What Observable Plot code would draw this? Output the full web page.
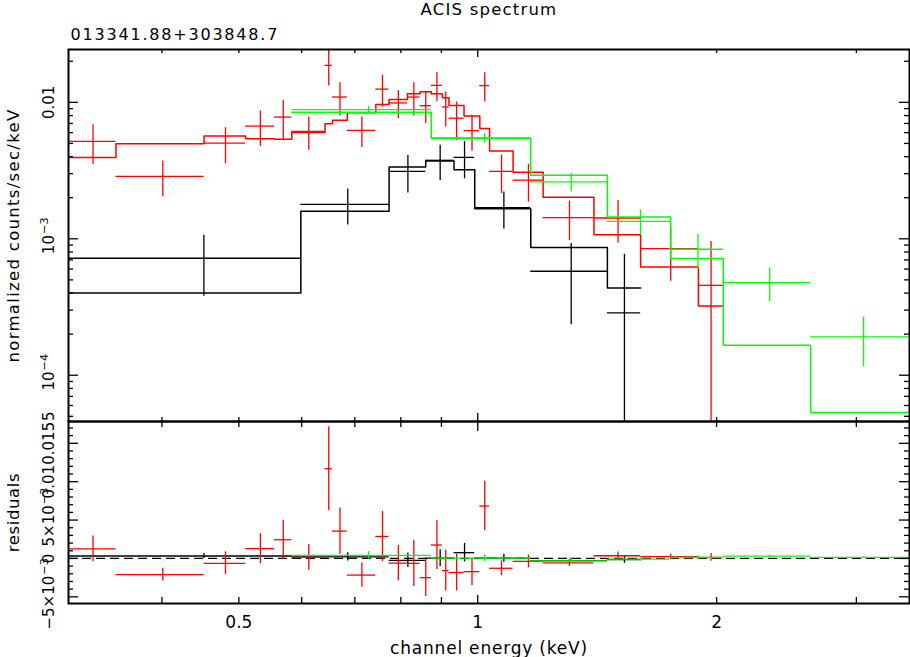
<!DOCTYPE html>
<html><head><meta charset="utf-8">
<script src="https://cdn.jsdelivr.net/npm/d3@7"></script>
<script src="https://cdn.jsdelivr.net/npm/@observablehq/plot@0.6"></script>
<style>
body{margin:0;background:#fff;}
#wrap{position:relative;width:910px;height:657px;overflow:hidden;}
#wrap svg{position:absolute;left:0;overflow:visible;background:transparent;}
</style></head><body><div id="wrap"></div>
<script>
// ---------------- data ----------------
// black dataset
const blackEdges = [0.305, 0.5985, 0.7732, 0.8599, 0.9335, 0.9913, 1.1663, 1.4567, 1.6044];
const blackRate  = [7.2e-4, 1.79e-3, 3.12e-3, 3.76e-3, 3.95e-3, 1.69e-3, 5.78e-4, 2.86e-4];
const blackErr   = [3.4e-4, 5.3e-4, 9.5e-4, 1.08e-3, 1.2e-3, 5.1e-4, 3.44e-4, 4.84e-4];
const blackModel = [4.0e-4, 1.59e-3, 3.36e-3, 3.72e-3, 3.2e-3, 1.66e-3, 8.62e-4, 4.36e-4];
// red dataset
const redEdges = [0.305, 0.350, 0.452, 0.510, 0.5545, 0.583, 0.642, 0.656, 0.685, 0.744, 0.773, 0.8155,
                  0.846, 0.874, 0.9026, 0.920, 0.961, 1.006, 1.035, 1.108, 1.209, 1.401, 1.604, 1.897, 2.039];
const redRate  = [5.18e-3, 2.87e-3, 5.03e-3, 6.70e-3, 7.80e-3, 6.13e-3, 0.01867, 0.01094, 6.23e-3, 0.0125,
                  9.9e-3, 0.01094, 9.45e-3, 0.01332, 9.24e-3, 7.66e-3, 6.21e-3, 0.01327, 3.12e-3, 2.69e-3,
                  1.43e-3, 1.42e-3, 8.48e-4, 4.56e-4];
const redErr   = [1.68e-3, 8.4e-4, 1.49e-3, 1.94e-3, 2.54e-3, 1.67e-3, 5.48e-3, 3.0e-3, 1.57e-3, 3.27e-3,
                  2.3e-3, 3.0e-3, 2.45e-3, 3.2e-3, 2.65e-3, 2.39e-3, 1.82e-3, 3.23e-3, 9.8e-4, 8.3e-4,
                  4.6e-4, 4.9e-4, 3.6e-4, 5.0e-4];
const redModel = [3.94e-3, 4.98e-3, 5.66e-3, 5.42e-3, 5.36e-3, 6.0e-3, 6.98e-3, 7.38e-3, 8.40e-3, 9.64e-3,
                  0.01051, 0.01158, 0.01196, 0.01157, 0.01082, 9.50e-3, 7.93e-3, 6.44e-3, 4.40e-3, 3.07e-3,
                  2.02e-3, 1.07e-3, 6.21e-4, 3.22e-4];
// green dataset
const greenEdges = [0.583, 0.874, 1.166, 1.457, 1.750, 2.039, 2.627, 3.5];
const greenRate  = [8.84e-3, 5.48e-3, 2.61e-3, 1.343e-3, 8.38e-4, 4.78e-4, 1.91e-4];
const greenErr   = [5.0e-4, 4.5e-4, 4.0e-4, 2.8e-4, 2.4e-4, 1.33e-4, 7.6e-5];
const greenModel = [8.45e-3, 5.45e-3, 2.92e-3, 1.445e-3, 7.16e-4, 1.66e-4, 5.33e-5];

// axes / ticks
const xDomain = [0.305, 3.5];
const topDomain = [4.58e-5, 0.0244];
const resDomain = [-0.00587, 0.01784];
const xMajor = [1];
const xMinor = [0.4, 0.5, 0.6, 0.7, 0.8, 0.9, 2, 3];
const xLabelVals = [0.5, 1, 2];
const xLabelText = ["0.5", "1", "2"];
const topMajorY = [1e-4, 1e-3, 1e-2];
const topMinorY = [5e-5, 6e-5, 7e-5, 8e-5, 9e-5, 2e-4, 3e-4, 4e-4, 5e-4, 6e-4, 7e-4, 8e-4, 9e-4,
                   2e-3, 3e-3, 4e-3, 5e-3, 6e-3, 7e-3, 8e-3, 9e-3, 2e-2];
const topLabelVals = [1e-2, 1e-3, 1e-4, 5e-5];
const topLabelBase = ["0.01", "10", "10", "5"];
const topLabelExp  = ["", "\u22123", "\u22124", ""];
const resMajor = [-0.005, 0, 0.005, 0.01, 0.015];
const resMinor = [-0.004, -0.003, -0.002, -0.001, 0.001, 0.002, 0.003, 0.004, 0.006, 0.007, 0.008, 0.009,
                  0.011, 0.012, 0.013, 0.014, 0.016, 0.017];
const resLabelBase = ["\u22125\u00D710", "0", "5\u00D710", "0.01", "0.015"];
const resLabelExp  = ["\u22123", "", "\u22123", "", ""];

const title = "ACIS spectrum";
const subtitle = "013341.88+303848.7";
const xTitle = "channel energy (keV)";
const yTitleTop = "normalized counts/sec/keV";
const yTitleRes = "residuals";

// ---------------- build ----------------
function bins(edges, rate, err, model) {
  return rate.map((r, i) => ({lo: edges[i], hi: edges[i + 1], mid: (edges[i] + edges[i + 1]) / 2,
                              rate: r, err: err[i], model: model[i], res: r - model[i]}));
}
const sets = [
  {color: "#000000", b: bins(blackEdges, blackRate, blackErr, blackModel)},
  {color: "#ff0000", b: bins(redEdges, redRate, redErr, redModel)},
  {color: "#00ff00", b: bins(greenEdges, greenRate, greenErr, greenModel)}
];
const steps = b => b.flatMap(d => [{x: d.lo, y: d.model}, {x: d.hi, y: d.model}]);

const W = 910, ML = 68, MR = 1;
const FW = W - ML - MR;
const TOP_MT = 49, TOP_H = 421, TOP_FH = TOP_H - TOP_MT;
const RES_H = 236, RES_MB = 54, RES_FH = RES_H - RES_MB;
const FONT = "DejaVu Sans";
const SW = 1.3;

function yTicks(vals, len) {
  return [
    Plot.tickY(vals, {y: d => d, insetRight: FW - len, strokeWidth: SW}),
    Plot.tickY(vals, {y: d => d, insetLeft: FW - len, strokeWidth: SW})
  ];
}
function xTicks(vals, lenTop, lenBottom, FH) {
  return [
    Plot.tickX(vals, {x: d => d, insetBottom: FH - lenTop, strokeWidth: SW}),
    Plot.tickX(vals, {x: d => d, insetTop: FH - lenBottom, strokeWidth: SW})
  ];
}
// approximate DejaVu Sans advance widths (em) for centring base+exponent labels
const cw = {"\u2212": 0.838, "\u00D7": 0.838, ".": 0.318};
const estLen = (s, fs) => [...s].reduce((a, c) => a + (cw[c] ?? 0.636), 0) * fs;
function yLabels(vals, bases, exps, fs) {
  const common = {y: d => d, frameAnchor: "left", rotate: -90, lineAnchor: "bottom"};
  const marks = [];
  vals.forEach((v, i) => {
    const b = bases[i], e = exps[i];
    if (!e) {
      marks.push(Plot.text([v], {...common, text: () => b, textAnchor: "middle", dx: -14.5, fontSize: fs}));
    } else {
      const efs = fs * 0.75;
      const bl = estLen(b, fs), el = estLen(e, efs);
      const J = (el + 1 - bl) / 2 - 3;
      marks.push(Plot.text([v], {...common, text: () => b, textAnchor: "end", dx: -14.5, dy: J, fontSize: fs}));
      marks.push(Plot.text([v], {...common, text: () => e, textAnchor: "start", dx: -21, dy: J - 1, fontSize: efs}));
    }
  });
  return marks;
}

const topMarks = [];
for (const s of sets) {
  topMarks.push(Plot.line(steps(s.b), {x: "x", y: "y", stroke: s.color, strokeWidth: 1.5, clip: true}));
  topMarks.push(Plot.ruleY(s.b, {y: "rate", x1: "lo", x2: "hi", stroke: s.color, strokeWidth: SW, clip: true}));
  topMarks.push(Plot.ruleX(s.b, {x: "mid", y1: d => Math.max(d.rate - d.err, topDomain[0]), y2: d => d.rate + d.err,
                                 stroke: s.color, strokeWidth: SW, clip: true}));
}

const topPlot = Plot.plot({
  width: W, height: TOP_H, marginTop: TOP_MT, marginBottom: 0, marginLeft: ML, marginRight: MR,
  style: {background: "transparent", overflow: "visible", fontFamily: FONT, color: "#000"},
  x: {type: "log", domain: xDomain, axis: null},
  y: {type: "log", domain: topDomain, axis: null},
  marks: [
    ...topMarks,
    ...yTicks(topMajorY, 10), ...yTicks(topMinorY, 5),
    ...xTicks(xMajor, 8, 8, TOP_FH), ...xTicks(xMinor, 4, 4, TOP_FH),
    Plot.frame({strokeWidth: 2}),
    ...yLabels(topLabelVals, topLabelBase, topLabelExp, 15),
    Plot.text([yTitleTop], {text: d => d, frameAnchor: "left", textAnchor: "middle", rotate: -90, dx: -50, lineAnchor: "bottom", fontSize: 16.5}),
    Plot.text([title], {text: d => d, frameAnchor: "top", textAnchor: "middle", dy: -35, lineAnchor: "bottom", fontSize: 16.5}),
    Plot.text([subtitle], {text: d => d, frameAnchor: "top-left", textAnchor: "start", dx: 2, dy: -9.5, lineAnchor: "bottom", fontSize: 16})
  ]
});

const resMarks = [Plot.ruleY([0], {stroke: "#000", strokeWidth: SW, strokeDasharray: "9,5"})];
for (const s of sets) {
  resMarks.push(Plot.ruleY(s.b, {y: "res", x1: "lo", x2: "hi", stroke: s.color, strokeWidth: SW, clip: true}));
  resMarks.push(Plot.ruleX(s.b, {x: "mid", y1: d => d.res - d.err, y2: d => d.res + d.err,
                                 stroke: s.color, strokeWidth: SW, clip: true}));
}

const resPlot = Plot.plot({
  width: W, height: RES_H, marginTop: 0, marginBottom: RES_MB, marginLeft: ML, marginRight: MR,
  style: {background: "transparent", overflow: "visible", fontFamily: FONT, color: "#000"},
  x: {type: "log", domain: xDomain, axis: null},
  y: {domain: resDomain, axis: null},
  marks: [
    ...resMarks,
    ...yTicks(resMajor, 10), ...yTicks(resMinor, 5),
    ...xTicks(xMajor, 10, 8, RES_FH), ...xTicks(xMinor, 6, 6, RES_FH),
    Plot.frame({strokeWidth: 2}),
    ...yLabels(resMajor, resLabelBase, resLabelExp, 15),
    Plot.text(xLabelVals.map((v, i) => ({v, t: xLabelText[i]})),
      {x: "v", text: "t", frameAnchor: "bottom", textAnchor: "middle", lineAnchor: "top", dy: 12, fontSize: 17}),
    Plot.text([xTitle], {text: d => d, frameAnchor: "bottom", textAnchor: "middle", dy: 50, lineAnchor: "bottom", fontSize: 17}),
    Plot.text([yTitleRes], {text: d => d, frameAnchor: "left", textAnchor: "middle", rotate: -90, dx: -50, lineAnchor: "bottom", fontSize: 16.5})
  ]
});

const spacing = {};
spacing[title] = "1.2px";
spacing[subtitle] = "1.8px";
spacing[xTitle] = "0.8px";
spacing[yTitleTop] = "1.3px";
spacing[yTitleRes] = "0.6px";
for (const svg of [topPlot, resPlot]) {
  d3.select(svg).selectAll("text").each(function () {
    const sp = spacing[this.textContent];
    if (sp) this.setAttribute("letter-spacing", sp);
  });
}

const wrap = document.getElementById("wrap");
topPlot.style.top = "0px";
resPlot.style.top = TOP_H + "px";
wrap.appendChild(topPlot);
wrap.appendChild(resPlot);
</script>
</body></html>
